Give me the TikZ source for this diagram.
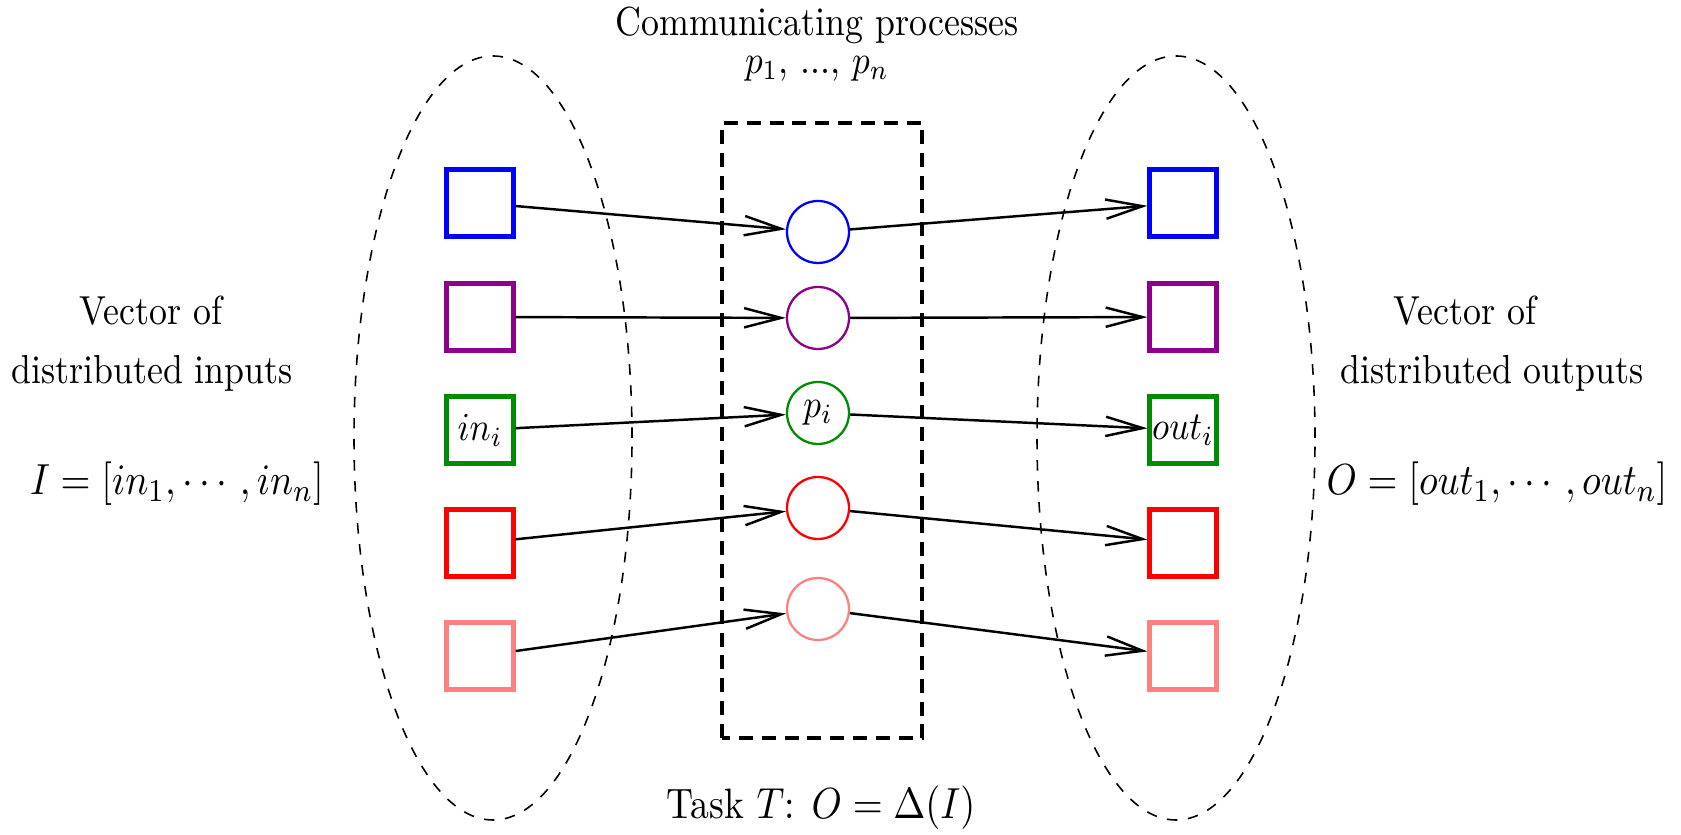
\documentclass[tikz,border=0pt]{standalone}
\usepackage{amsmath}
\usepackage{amssymb}
\usepackage{tikz}
\usetikzlibrary{arrows.meta}

\definecolor{procviolet}{rgb}{0.55,0,0.55}
\definecolor{procgreen}{rgb}{0,0.55,0}
\definecolor{procpink}{rgb}{1,0.5,0.5}

% text is drawn a little taller than wide
\newcommand{\talltext}[1]{\scalebox{1}[1.13]{#1}}

\tikzset{
  valbox/.style={draw, line width=1.2pt, minimum size=0.67cm, inner sep=0pt},
  proc/.style={draw, circle, line width=0.65pt, minimum size=0.62cm, inner sep=0pt},
  flow/.style={-{Straight Barb[length=10.5pt,width=5.5pt]}, line width=0.7pt},
  vecset/.style={dashed, line width=0.45pt},
  plain/.style={font=\fontsize{10.2}{12}\selectfont},
  bigmath/.style={font=\fontsize{10.9}{13}\selectfont}
}

\begin{document}
\begin{tikzpicture}

\useasboundingbox (0,0) rectangle (16.81,8.35);

% Input and output vectors
\draw[vecset] (4.93,3.97) ellipse [x radius=1.39, y radius=3.82];
\draw[vecset] (11.76,3.97) ellipse [x radius=1.39, y radius=3.82];

% The communicating processes
\draw[line width=1.2pt, dash pattern=on 4pt off 2.5pt] (7.22,0.97) rectangle (9.22,7.12);

% One row per process: input, process, output
\foreach \i/\col/\ys/\yc/\lin/\lp/\lout in {
  1/blue/6.32/6.03/{}/{}/{},
  2/procviolet/5.18/5.17/{}/{}/{},
  3/procgreen/4.05/4.22/{$in_i$}/{$p_i$}/{$out_i$},
  4/red/2.92/3.27/{}/{}/{},
  5/procpink/1.79/2.26/{}/{}/{}
}{
  \node[valbox, draw=\col] (in\i) at (4.80,\ys) {\talltext{\lin}};
  \node[proc, draw=\col] (p\i) at (8.18,\yc) {\talltext{\lp}};
  \node[valbox, draw=\col] (out\i) at (11.83,\ys) {\talltext{\lout}};
  \draw[flow] (in\i) -- (p\i);
  \draw[flow] (p\i) -- (out\i);
}

% Titles
\node[plain] (title) at (8.17,8.10) {\talltext{Communicating processes}};
\node[plain] (plist) at (8.17,7.66) {\talltext{$p_1$, ..., $p_n$}};
\node[font=\fontsize{10.7}{13}\selectfont] (task) at (8.21,0.27) {\talltext{Task $T$: $O = \Delta(I)$}};

% Left side
\node[plain] (invec) at (1.51,5.24) {\talltext{Vector of}};
\node[plain] (indist) at (1.52,4.62) {\talltext{distributed inputs}};
\node[bigmath] (inset) at (1.77,3.51) {\talltext{$I = [in_1, \cdots, in_n]$}};

% Right side
\node[plain] (outvec) at (14.65,5.24) {\talltext{Vector of}};
\node[plain] (outdist) at (14.92,4.62) {\talltext{distributed outputs}};
\node[bigmath] (outset) at (14.97,3.51) {\talltext{$O = [out_1, \cdots, out_n]$}};

\end{tikzpicture}
\end{document}
